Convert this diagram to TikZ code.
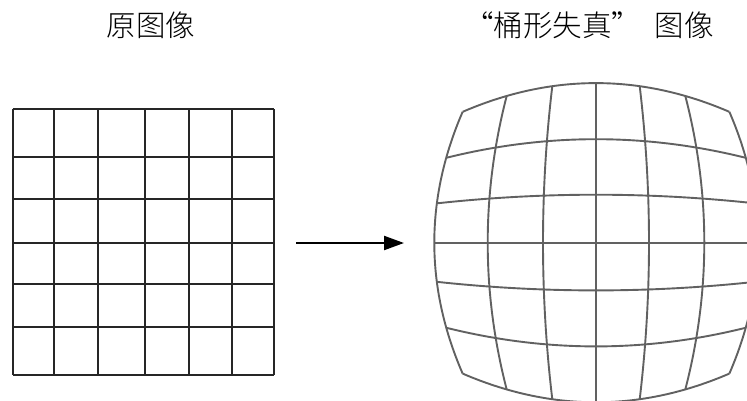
\documentclass[tikz,border=0pt]{standalone}
\usepackage{fontspec}
\newfontfamily\cjk{Noto Sans CJK SC Light}
\usepackage{tikz}
\usetikzlibrary{arrows.meta,positioning}
\tikzset{
  gridline/.style={line width=2pt,draw=black!85},
  warpline/.style={line width=1.9pt,draw=black!62},
  flow/.style={line width=2.2pt,draw=black,-{Triangle[length=20pt,width=14pt]}},
  title/.style={font=\cjk\fontsize{29.5}{34}\selectfont,inner sep=0pt}
}
\begin{document}
\begin{tikzpicture}[x=1pt,y=-1pt]
  \useasboundingbox (0,0) rectangle (747,400);
  \clip (0,0) rectangle (747,400);
  % titles
  \node[title] (orig) at (151,25) {原图像};
  \node[title] (barrel) at (589,25) {“桶形失真”\hspace{0.45em}图像};
  % original grid
  \foreach \gx in {12.7,54,98.3,144.7,188.7,232.3,274}
    \draw[gridline] (\gx,109) -- (\gx,375.3);
  \foreach \gy in {109,156.7,198.7,242.7,284.3,326.7,375.3}
    \draw[gridline] (12.7,\gy) -- (274,\gy);
  % arrow
  \coordinate (src) at (296,243);
  \coordinate (dst) at (404,243);
  \draw[flow] (src) -- (dst);
  % distorted grid, in units of 100px
  \begin{scope}[shift={(596,242.7)},x=100pt,y=-100pt]
    \foreach \X in {-1.617,-1.083,-0.53,0,0.53,1.083,1.617}
      \draw[warpline] plot[domain=-1.596:1.596,samples=41,smooth]
        ({\X*(1-0.0688*\x*\x)},{\x*(1-0.0688*\X*\X)});
    \foreach \Y in {-1.596,-1.035,-0.48,0,0.477,1.037,1.596}
      \draw[warpline] plot[domain=-1.617:1.617,samples=41,smooth]
        ({\x*(1-0.0688*\Y*\Y)},{\Y*(1-0.0688*\x*\x)});
  \end{scope}
\end{tikzpicture}
\end{document}
